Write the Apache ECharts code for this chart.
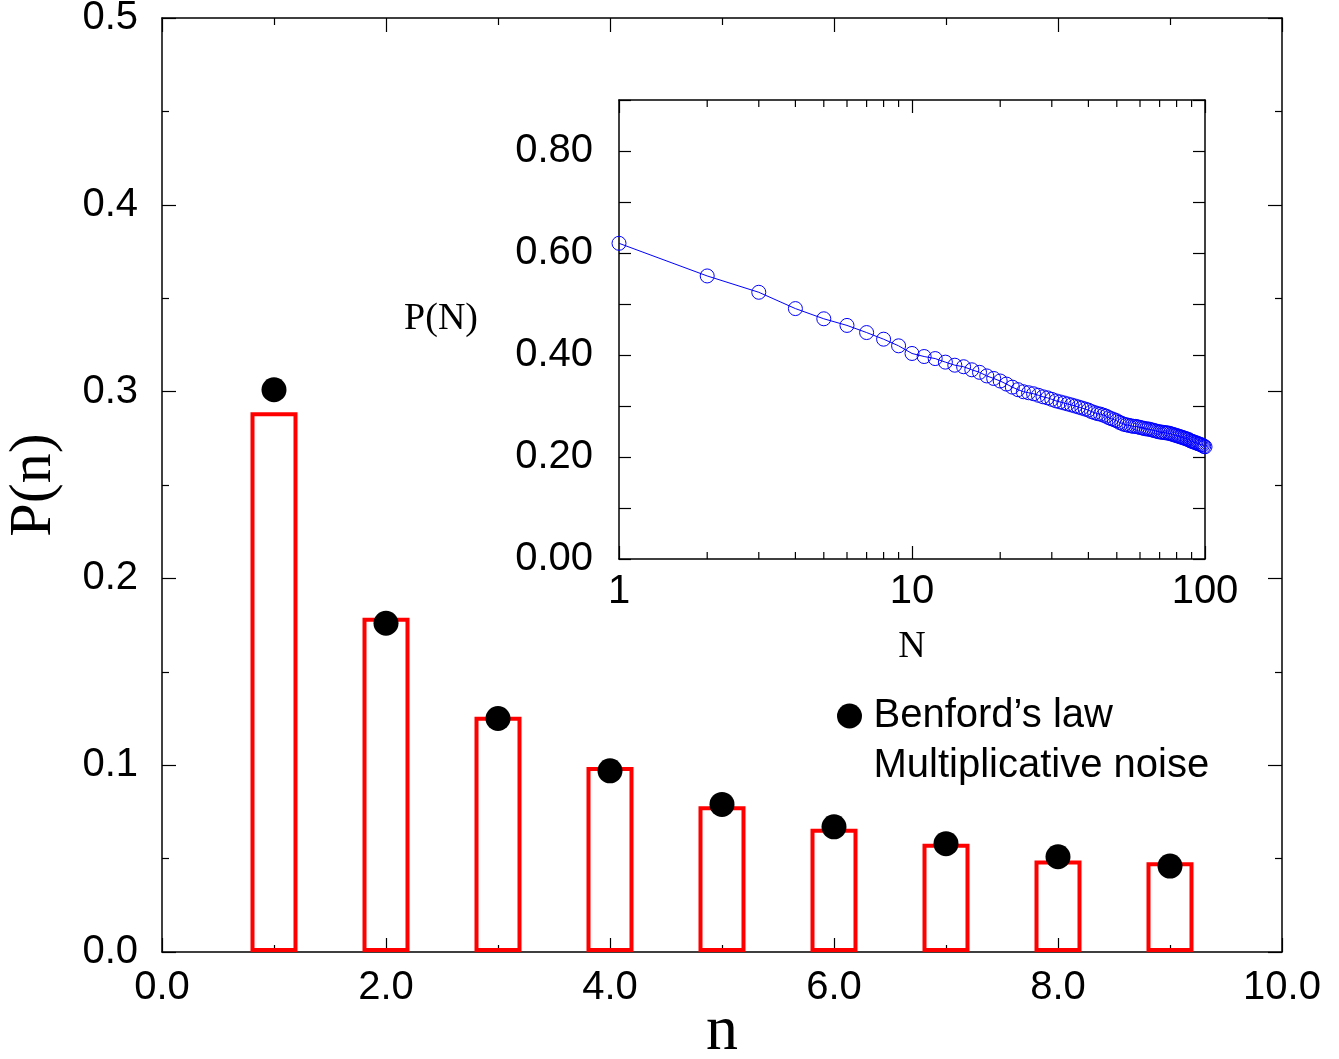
<!DOCTYPE html>
<html>
<head>
<meta charset="utf-8">
<script src="https://cdn.jsdelivr.net/npm/echarts@6/dist/echarts.min.js"></script>
<style>
html,body{margin:0;padding:0;background:#fff;}
#chart{width:1339px;height:1059px;}
</style>
</head>
<body>
<div id="chart"></div>
<script>
// ---- data ----
var digits = [1, 2, 3, 4, 5, 6, 7, 8, 9];
var noiseValues = [0.289, 0.179, 0.126, 0.099, 0.078, 0.066, 0.058, 0.049, 0.048];
var benfordValues = [0.301, 0.176, 0.125, 0.097, 0.079, 0.067, 0.058, 0.051, 0.046];
var insetN = [];
for (var i = 1; i <= 100; i++) insetN.push(i);
var insetP = [
  0.619, 0.555, 0.523, 0.491, 0.471, 0.458, 0.444, 0.431, 0.418, 0.403,
  0.397, 0.393, 0.386, 0.380, 0.377, 0.371, 0.366, 0.359, 0.354, 0.349,
  0.343, 0.337, 0.332, 0.328, 0.326, 0.324, 0.321, 0.318, 0.316, 0.313,
  0.310, 0.308, 0.306, 0.304, 0.302, 0.300, 0.298, 0.296, 0.294, 0.292,
  0.289, 0.287, 0.285, 0.284, 0.282, 0.280, 0.277, 0.275, 0.273, 0.271,
  0.268, 0.266, 0.264, 0.263, 0.262, 0.261, 0.260, 0.260, 0.259, 0.258,
  0.257, 0.256, 0.255, 0.255, 0.254, 0.253, 0.252, 0.251, 0.250, 0.249,
  0.249, 0.248, 0.248, 0.247, 0.247, 0.246, 0.245, 0.244, 0.243, 0.242,
  0.241, 0.240, 0.239, 0.238, 0.237, 0.236, 0.235, 0.234, 0.232, 0.231,
  0.230, 0.229, 0.228, 0.227, 0.226, 0.225, 0.224, 0.223, 0.221, 0.220
];
var insetMinorTicks = [2, 3, 4, 5, 6, 7, 8, 9, 20, 30, 40, 50, 60, 70, 80, 90];
var seriesNames = ['Benford\u2019s law', 'Multiplicative noise'];

// ---- styles ----
var SANS = '"Liberation Sans", Arial, Helvetica, sans-serif';
var SERIF = '"Liberation Serif", "Times New Roman", serif';
var LABEL_SIZE = 40;

function mainAxis(pos, isX, showLabel) {
  return {
    type: 'value',
    gridIndex: 0,
    position: pos,
    min: 0,
    max: isX ? 10 : 0.5,
    interval: isX ? 2 : 0.1,
    axisLine: { show: true, onZero: false, lineStyle: { color: '#000', width: 1.5 } },
    axisTick: { show: true, inside: true, length: 14, lineStyle: { color: '#000', width: 1.2 } },
    minorTick: { show: true, splitNumber: 2, length: 7, lineStyle: { color: '#000', width: 1.2 } },
    splitLine: { show: false },
    axisLabel: {
      show: showLabel,
      margin: isX ? 16 : 24,
      color: '#000',
      fontFamily: SANS,
      fontSize: LABEL_SIZE,
      formatter: function (v) { return v.toFixed(1); }
    }
  };
}

var xMain = mainAxis('bottom', true, true);
xMain.name = 'n';
xMain.nameLocation = 'middle';
xMain.nameGap = 48;
xMain.nameMoveOverlap = false;
xMain.nameTextStyle = { fontFamily: SERIF, fontSize: 64, color: '#000' };
var xMainTop = mainAxis('top', true, false);
var yMain = mainAxis('left', false, true);
yMain.name = 'P(n)';
yMain.nameLocation = 'middle';
yMain.nameRotate = 90;
yMain.nameGap = 98;
yMain.nameTextStyle = { fontFamily: SERIF, fontSize: 60, color: '#000' };
var yMainRight = mainAxis('right', false, false);

function insetX(pos, showLabel) {
  return {
    type: 'log',
    logBase: 10,
    gridIndex: 1,
    position: pos,
    min: 1,
    max: 100,
    axisLine: { show: true, onZero: false, lineStyle: { color: '#000', width: 1.5 } },
    axisTick: { show: true, inside: true, length: 13, lineStyle: { color: '#000', width: 1.2 } },
    minorTick: { show: false },
    splitLine: { show: false },
    axisLabel: {
      show: showLabel, margin: 13, color: '#000', fontFamily: SANS, fontSize: LABEL_SIZE,
      formatter: function (v) { return String(Math.round(v)); }
    }
  };
}
function insetY(pos, showLabel) {
  return {
    type: 'value',
    gridIndex: 1,
    position: pos,
    min: 0,
    max: 0.9,
    interval: 0.1,
    axisLine: { show: true, onZero: false, lineStyle: { color: '#000', width: 1.5 } },
    axisTick: { show: true, inside: true, length: 12, lineStyle: { color: '#000', width: 1.2 } },
    splitLine: { show: false },
    axisLabel: {
      show: showLabel, margin: 26, color: '#000', fontFamily: SANS, fontSize: LABEL_SIZE,
      formatter: function (v) {
        return Math.round(v * 10) % 2 === 0 ? v.toFixed(2) : '';
      }
    }
  };
}
var xInset = insetX('bottom', true);
xInset.name = 'N';
xInset.nameLocation = 'middle';
xInset.nameGap = 69;
xInset.nameTextStyle = { fontFamily: SERIF, fontSize: 38, color: '#000' };
var xInsetTop = insetX('top', false);
var yInset = insetY('left', true);
yInset.name = 'P(N)';
yInset.nameLocation = 'middle';
yInset.nameRotate = 0;
yInset.nameGap = 141;
yInset.nameTextStyle = { fontFamily: SERIF, fontSize: 38, color: '#000', verticalAlign: 'bottom', lineHeight: 20 };
var yInsetRight = insetY('right', false);

var chart = echarts.init(document.getElementById('chart'), null, { renderer: 'canvas' });
chart.setOption({
  animation: false,
  backgroundColor: '#fff',
  grid: [
    { left: 162, right: 57, top: 18, bottom: 107, containLabel: false, outerBoundsMode: 'none' },
    { left: 619, right: 134, top: 100, bottom: 500, containLabel: false, outerBoundsMode: 'none' }
  ],
  xAxis: [xMain, xMainTop, xInset, xInsetTop],
  yAxis: [yMain, yMainRight, yInset, yInsetRight],
  legend: {
    orient: 'vertical',
    left: 831,
    top: 691,
    itemWidth: 38,
    itemHeight: 25,
    itemGap: 10,
    textStyle: { fontFamily: SANS, fontSize: LABEL_SIZE, color: '#000', lineHeight: 40 },
    data: [
      { name: seriesNames[0], icon: 'circle' },
      { name: seriesNames[1], icon: 'circle', itemStyle: { opacity: 0 } }
    ],
    selectedMode: false
  },
  series: [
    {
      name: seriesNames[1],
      type: 'bar',
      xAxisIndex: 0,
      yAxisIndex: 0,
      barWidth: 47,
      data: digits.map(function (d, i) { return [d, noiseValues[i]]; }),
      itemStyle: { color: 'rgba(255,255,255,0)', borderColor: '#ff0000', borderWidth: 4 },
      z: 2
    },
    {
      name: seriesNames[0],
      type: 'scatter',
      xAxisIndex: 0,
      yAxisIndex: 0,
      symbol: 'circle',
      symbolSize: 25,
      data: digits.map(function (d, i) { return [d, benfordValues[i]]; }),
      itemStyle: { color: '#000', opacity: 1 },
      z: 3
    },
    {
      name: 'inset',
      type: 'line',
      xAxisIndex: 2,
      yAxisIndex: 2,
      data: insetN.map(function (n, i) { return [n, insetP[i]]; }),
      symbol: 'circle',
      symbolSize: 14,
      showAllSymbol: true,
      lineStyle: { color: '#0000ff', width: 1 },
      itemStyle: { color: 'rgba(0,0,0,0)', borderColor: '#0000ff', borderWidth: 1 },
      z: 4
    },
    {
      name: 'insetMinorTicks',
      type: 'custom',
      xAxisIndex: 2,
      yAxisIndex: 2,
      clip: false,
      silent: true,
      data: insetMinorTicks.map(function (v) { return [v]; }),
      renderItem: function (params, api) {
        var b = api.coord([api.value(0), 0]);
        var t = api.coord([api.value(0), 0.9]);
        return {
          type: 'group',
          children: [
            { type: 'line', shape: { x1: b[0], y1: b[1], x2: b[0], y2: b[1] - 7 }, style: { stroke: '#000', lineWidth: 1.2 } },
            { type: 'line', shape: { x1: t[0], y1: t[1], x2: t[0], y2: t[1] + 7 }, style: { stroke: '#000', lineWidth: 1.2 } }
          ]
        };
      },
      z: 5
    }
  ]
});
</script>
</body>
</html>
